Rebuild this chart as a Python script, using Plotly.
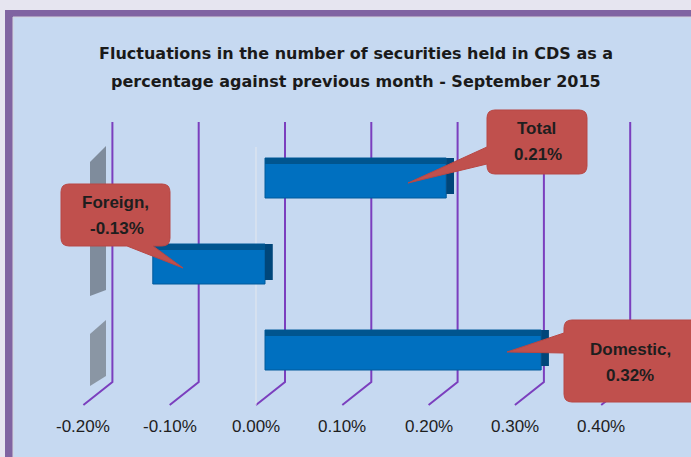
import plotly.graph_objects as go

# ---- data ----
categories = ["Domestic", "Foreign", "Total"]
values = [0.32, -0.13, 0.21]          # % change vs previous month
label_names = ["Domestic,", "Foreign,", "Total"]
tick_values = [-0.20, -0.10, 0.00, 0.10, 0.20, 0.30, 0.40]
tick_labels = ["-0.20%", "-0.10%", "0.00%", "0.10%", "0.20%", "0.30%", "0.40%"]
title_lines = ["Fluctuations in the number of securities held in CDS as a",
               "percentage against previous month - September 2015"]

W, H = 691, 457
FONT = "Liberation Sans"
TITLE_FONT = "DejaVu Sans"


def px(x, y):
    return x / W, 1 - y / H


def path_px(points_cmds):
    out = []
    for cmd in points_cmds:
        if isinstance(cmd, str):
            out.append(cmd)
        else:
            x, y = px(*cmd)
            out.append(f"{x:.5f},{y:.5f}")
    return " ".join(out)


def rounded_callout(x0, y0, x1, y1, r, side, w1, w2, tip):
    p = ["M", (x0 + r, y0), "L", (x1 - r, y0), "Q", (x1, y0), (x1, y0 + r),
         "L", (x1, y1 - r), "Q", (x1, y1), (x1 - r, y1)]
    if side == "bottom":
        p += ["L", (w2, y1), "L", tip, "L", (w1, y1)]
    p += ["L", (x0 + r, y1), "Q", (x0, y1), (x0, y1 - r)]
    if side == "left":
        p += ["L", (x0, w2), "L", tip, "L", (x0, w1)]
    p += ["L", (x0, y0 + r), "Q", (x0, y0), (x0 + r, y0), "Z"]
    return path_px(p)


fig = go.Figure()

BAR_W = 0.465
# front face
fig.add_trace(go.Bar(y=categories, x=values, orientation="h", width=BAR_W,
                     marker=dict(color="#0070C0", line=dict(color="#005A9C", width=1)),
                     hoverinfo="skip", showlegend=False))
# top face (darker strip)
fig.add_trace(go.Bar(y=categories, x=values, orientation="h", width=0.07,
                     offset=BAR_W / 2 - 0.07,
                     marker=dict(color="#00558F", line=dict(width=0)),
                     hoverinfo="skip", showlegend=False))
# right side face
side_depth = 0.009
fig.add_trace(go.Bar(y=categories, x=[side_depth] * len(values),
                     base=[max(v, 0) for v in values], orientation="h", width=BAR_W * 0.9,
                     offset=-BAR_W / 2 + BAR_W * 0.1,
                     marker=dict(color="#00467A", line=dict(width=0)),
                     hoverinfo="skip", showlegend=False))

shapes = []
# frame
x0p, y0p = px(5, 10)
x1p, y1p = px(720, 480)
shapes.append(dict(type="rect", xref="paper", yref="paper", x0=x0p, y0=y0p, x1=x1p, y1=y1p,
                   fillcolor="#8064A2", line=dict(width=0), layer="below"))
x0p, y0p = px(13, 17)
shapes.append(dict(type="rect", xref="paper", yref="paper", x0=x0p, y0=y0p, x1=x1p, y1=y1p,
                   fillcolor="#C6D9F1", line=dict(color="#D4D4DC", width=1), layer="below"))

# gray side wall pieces
shapes.append(dict(type="path", xref="paper", yref="paper", layer="below",
                   path=path_px(["M", (90, 162), "L", (106, 146), "L", (106, 290), "L", (90, 296), "Z"]),
                   fillcolor="#7F8C9C", line=dict(width=0)))
shapes.append(dict(type="path", xref="paper", yref="paper", layer="below",
                   path=path_px(["M", (90, 334), "L", (106, 320), "L", (106, 376), "L", (90, 386), "Z"]),
                   fillcolor="#8A96A4", line=dict(width=0)))

BACK = 20 / 863     # back-wall offset in data units
FRONT = -9 / 863    # front-plane offset in data units
y_top = 1 - 122 / H
y_mid = 1 - 382 / H
y_bot = 1 - 405 / H
for t in tick_values:
    shapes.append(dict(type="path", xref="x", yref="paper", layer="below",
                       path=f"M {t + BACK},{y_top} L {t + BACK},{y_mid} L {t + FRONT},{y_bot}",
                       line=dict(color="#7B3FBE", width=2)))
# zero line on front plane
shapes.append(dict(type="line", xref="x", yref="paper", layer="below",
                   x0=FRONT, x1=FRONT, y0=1 - 147 / H, y1=y_bot,
                   line=dict(color="#E4E8EE", width=1)))

# callouts
CALLOUT = "#C0504D"
callout_specs = {
    "Total": dict(box=(487, 110, 587, 174), side="left", w=(147, 164), tip=(408, 183),
                  text=((536, 128), (538, 154))),
    "Foreign": dict(box=(61, 184, 170, 246), side="bottom", w=(127, 153), tip=(183, 268),
                    text=((115, 202), (117, 228))),
    "Domestic": dict(box=(564, 320, 712, 402), side="left", w=(333, 353), tip=(507, 352),
                     text=((630, 349), (630, 375))),
}
annotations = []
for cat, val, name in zip(categories, values, label_names):
    s = callout_specs[cat]
    bx0, by0, bx1, by1 = s["box"]
    shapes.append(dict(type="path", xref="paper", yref="paper", layer="above",
                       path=rounded_callout(bx0, by0, bx1, by1, 8, s["side"], s["w"][0], s["w"][1], s["tip"]),
                       fillcolor=CALLOUT, line=dict(color="#B84744", width=1)))
    for (tx, ty), txt in zip(s["text"], [name, f"{val:.2f}%"]):
        ax, ay = px(tx, ty)
        annotations.append(dict(xref="paper", yref="paper", x=ax, y=ay, showarrow=False,
                                xanchor="center", yanchor="middle",
                                text=f"<b>{txt}</b>",
                                font=dict(family=FONT, size=17, color="#1E1E1E")))

# tick labels (front plane)
for t, lab in zip(tick_values, tick_labels):
    annotations.append(dict(xref="x", yref="paper", x=t + FRONT, y=1 - 426.5 / H, showarrow=False,
                            xanchor="center", yanchor="middle",
                            text=lab, font=dict(family=FONT, size=17, color="#1E1E1E")))

# title
for i, line in enumerate(title_lines):
    tx, ty = px(356, 53 + 29 * i)
    annotations.append(dict(xref="paper", yref="paper", x=tx, y=ty, showarrow=False,
                            xanchor="center", yanchor="middle",
                            text=f"<b>{line}</b>",
                            font=dict(family=TITLE_FONT, size=16, color="#1A1A1A")))

fig.update_layout(
    width=W, height=H, autosize=False,
    margin=dict(l=0, r=0, t=0, b=0),
    paper_bgcolor="#E6E5F0", plot_bgcolor="rgba(0,0,0,0)",
    barmode="overlay",
    xaxis=dict(range=[-265 / 863, 426 / 863], domain=[0, 1], showgrid=False, zeroline=False,
               showticklabels=False, ticks="", fixedrange=True),
    yaxis=dict(type="category", categoryorder="array", categoryarray=categories,
               range=[-107 / 86, 350 / 86], domain=[0, 1], showgrid=False, zeroline=False,
               showticklabels=False, ticks="", fixedrange=True),
    shapes=shapes, annotations=annotations,
    showlegend=False,
)

fig.write_html("out.html", config={"displayModeBar": False},
               post_script="document.body.style.margin='0';document.body.style.overflow='hidden';")
